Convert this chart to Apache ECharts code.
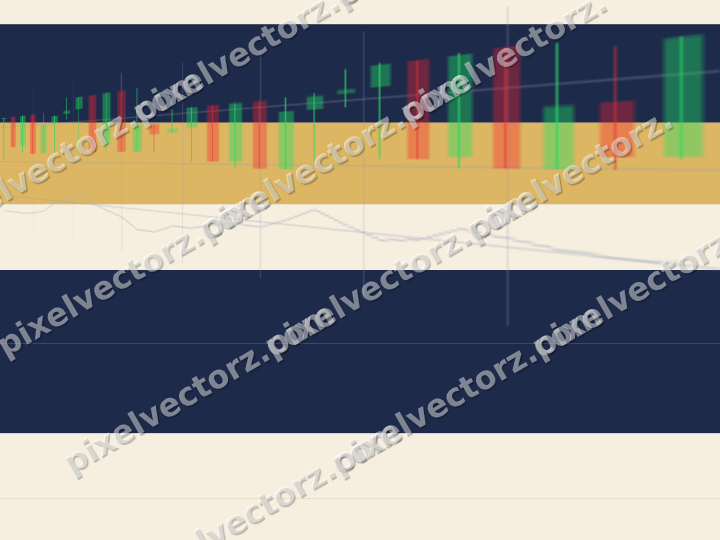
<!DOCTYPE html>
<html><head><meta charset="utf-8">
<script src="https://cdn.jsdelivr.net/npm/echarts@6/dist/echarts.min.js"></script>
<style>
html,body{margin:0;padding:0;width:720px;height:540px;overflow:hidden;background:#f6efe0}
.layer{position:absolute;left:0;top:0;width:720px;height:540px}
#chart{transform-origin:0 0}
#wm{pointer-events:none}
</style></head><body>
<div id="bg" class="layer"></div>
<div id="chart" class="layer"></div>
<div id="wm" class="layer"></div>
<script>
// ---- data ----
const categories = ['1','2','3','4','5','6','7','8','9','10','11','12','13','14',
                    '15','16','17','18','19','20','21','22','23','24','25','26','27','28'];
const opens  = [112.4,112.7,104.3,112.7,102.2,110.0,112.0,112.9,115.9,104.2,116.0,102.3,108.1,106.1,
                106.9,111.0,100.3,111.0,99.2,108.9,111.0,111.5,114.7,101.1,114.9,99.8,107.3,101.1];
const closes = [112.7,104.1,112.7,102.0,109.7,111.8,112.8,115.9,102.4,116.0,102.3,108.1,106.0,106.9,
                110.8,100.2,111.0,99.1,108.9,111.0,111.6,114.8,100.9,114.8,99.7,107.2,101.1,113.7];
const lows   = [100.3,103.8,102.3,101.7,102.0,102.5,110.5,101.7,102.3,102.3,102.2,102.1,102.4,106.0,
                100.2,100.2,99.2,99.1,99.2,100.4,108.9,100.9,100.9,99.7,99.7,99.7,99.7,101.0];
const highs  = [112.7,113.0,112.8,112.9,112.9,111.9,116.1,116.0,116.0,116.2,120.0,116.2,108.2,110.9,
                111.0,111.0,111.0,111.0,111.1,111.5,114.6,114.9,114.8,114.9,114.9,114.8,113.5,113.8];
const lineValues = [85.6,85.4,85.5,85.9,86.8,89.3,90.3,92.1,90.2,88.9,87.8,85.4,85.4,87.2,
                    87.3,88.3,89.2,88.9,90.6,92.7,90.7,89.0,89.6,91.6,91.0,90.2,89.9,90.0];
const yMin = 80, yMax = 120, yStep = 10;
const watermarkText = 'pixelvectorz.com';
const watermarkUnit = 'pixelvectorz.';

// ---- layout / style ----
const GRID = {left: 20, width: 560, top: 93, height: 136};
const PERSP = {a: 8.846, b: 4, c: -0.02387, horizon: 157};
const n = categories.length;
const s = GRID.width / n;
const X0 = GRID.left + s / 2;

// background bands (page decoration)
const bg = echarts.init(document.getElementById('bg'));
const bands = [
  [0, 24, '#f6efe0'], [24, 98, '#1e2a4a'], [122, 82, '#dcb662'],
  [204, 66, '#f6efe0'], [270, 163, '#1e2a4a'], [433, 107, '#f6efe0']
];
const rules = [[24.5, '#4b5263'], [122.5, '#7d7668'], [204.5, '#ebe0c6'],
               [343.5, '#3d4864'], [433.5, '#dad3c4'], [498.5, '#e8dfcc']];
bg.setOption({
  animation: false,
  graphic: bands.map(b => ({type: 'rect', silent: true, shape: {x: 0, y: b[0], width: 720, height: b[1]}, style: {fill: b[2]}}))
    .concat(rules.map(r => ({type: 'line', silent: true, shape: {x1: 0, y1: r[0], x2: 720, y2: r[0]}, style: {stroke: r[1], lineWidth: 1}})))
});

// perspective (projective) transform of the chart layer
const h11 = PERSP.a / s, h13 = PERSP.b - PERSP.a * X0 / s;
const h31 = PERSP.c / s, h33 = 1 - PERSP.c * X0 / s;
const h21 = PERSP.horizon * h31, h23 = PERSP.horizon * h33 - PERSP.horizon;
const chartDom = document.getElementById('chart');
chartDom.style.transform = `matrix3d(${h11},${h21},0,${h31},0,1,0,0,0,0,1,0,${h13},${h23},0,${h33})`;

const chart = echarts.init(chartDom, null, {devicePixelRatio: 3});
const ohlc = opens.map((o, i) => [o, closes[i], lows[i], highs[i]]);
const wickData = ohlc.map((v, i) => {
  const w = 1 + PERSP.c * i;
  return {value: v, itemStyle: {borderWidth: 0.9 * s * w * w / (PERSP.a - PERSP.c * PERSP.b)}};
});
const hidden = {axisLine: {show: false}, axisTick: {show: false}, axisLabel: {show: false}};
chart.setOption({
  animation: false,
  backgroundColor: 'transparent',
  grid: GRID,
  xAxis: [
    Object.assign({type: 'category', data: categories, boundaryGap: true, splitLine: {show: false}}, hidden),
    Object.assign({type: 'value', min: -0.5, max: n - 0.5, interval: 3.5, position: 'bottom',
      splitLine: {show: true, showMinLine: false, showMaxLine: false,
                  lineStyle: {color: 'rgba(150,155,172,0.22)', width: 0.6}}}, hidden)
  ],
  yAxis: Object.assign({type: 'value', min: yMin, max: yMax, interval: yStep,
    splitLine: {show: true, showMinLine: false, showMaxLine: false,
                lineStyle: {color: 'rgba(150,155,175,0.28)', width: 0.5}}}, hidden),
  series: [
    {type: 'candlestick', data: ohlc, barWidth: 12,
     itemStyle: {color: 'rgba(30,224,100,0.4)', color0: 'rgba(247,32,44,0.36)', borderWidth: 0}},
    {type: 'candlestick', data: wickData, barWidth: 0.01,
     itemStyle: {color: 'rgba(40,215,100,0.7)', color0: 'rgba(235,45,55,0.55)',
                 borderColor: 'rgba(40,215,100,0.7)', borderColor0: 'rgba(235,45,55,0.55)'}},
    {type: 'line', data: lineValues, symbol: 'none', silent: true,
     lineStyle: {color: 'rgba(175,180,196,0.5)', width: 1}}
  ]
});

// watermark overlay
const font = 'bold 32px "DejaVu Sans"';
const ctx = document.createElement('canvas').getContext('2d');
ctx.font = font;
const unitW = ctx.measureText(watermarkUnit).width;
const wm = echarts.init(document.getElementById('wm'));
const rows = [];
const tilesPerRow = 3;
for (let k = -2; k <= 1; k++) {
  const children = [];
  for (let j = 0; j < tilesPerRow; j++) {
    children.push({type: 'text', x: j * unitW, y: 0, silent: true,
      style: {text: j < tilesPerRow - 1 ? watermarkText : watermarkUnit, font: font,
              fill: 'rgba(255,255,255,0.45)', align: 'left', verticalAlign: 'middle',
              textShadowColor: 'rgba(0,0,0,0.55)', textShadowBlur: 1,
              textShadowOffsetX: 1.5, textShadowOffsetY: 1.5}});
  }
  rows.push({type: 'group', x: 67 + 66 * k, y: 467 + 117 * k, rotation: Math.PI / 6, children});
}
wm.setOption({animation: false, graphic: rows});
</script>
</body></html>
